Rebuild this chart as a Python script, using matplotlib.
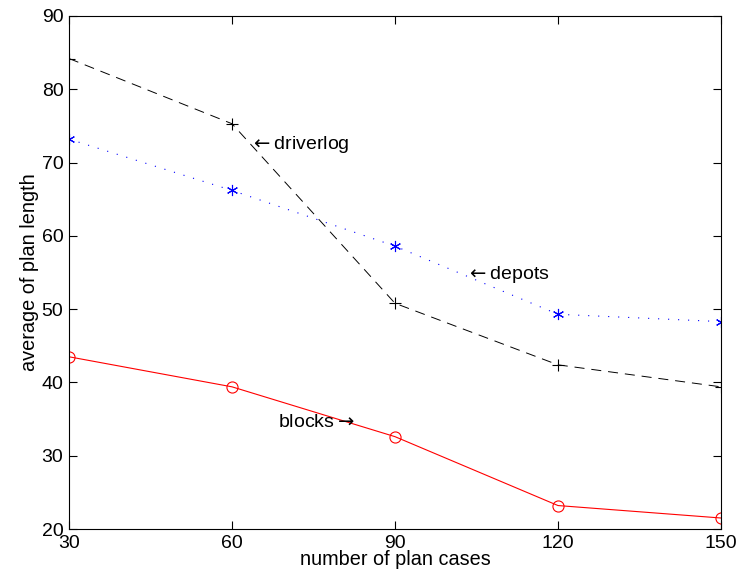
import matplotlib
matplotlib.use("Agg")
import matplotlib.pyplot as plt

plt.rcParams['font.family'] = ['Liberation Sans', 'DejaVu Sans']
plt.rcParams['mathtext.fontset'] = 'dejavusans'

plan_cases = [30, 60, 90, 120, 150]
driverlog = [84.2, 75.3, 50.8, 42.4, 39.4]
depots = [73.2, 66.2, 58.6, 49.3, 48.3]
blocks = [43.5, 39.4, 32.6, 23.2, 21.5]
x_ticks = [30, 60, 90, 120, 150]
y_ticks = [20, 30, 40, 50, 60, 70, 80, 90]

fig = plt.figure(figsize=(7.41, 5.86), dpi=100)
ax = fig.add_axes([69/741, 57/586, (721-69)/741, (529-16)/586])

ax.plot(plan_cases, driverlog, color='black', lw=0.7, linestyle=(0, (10.3, 7.1)),
        marker='+', markersize=8, markeredgewidth=0.8)
ax.plot(plan_cases, depots, color='blue', lw=0.8, linestyle=(0, (1, 8)),
        marker=(6, 2, 0), markersize=8, markeredgewidth=0.8)
ax.plot(plan_cases, blocks, color='red', lw=0.8, linestyle='-',
        marker='o', markersize=8, markerfacecolor='none', markeredgewidth=0.8)

ax.text(63.3, 72.5, r'$\leftarrow$driverlog', fontsize=14, ha='left', va='center')
ax.text(103.0, 54.7, r'$\leftarrow$depots', fontsize=14, ha='left', va='center')
ax.text(82.5, 34.5, r'blocks$\rightarrow$', fontsize=14, ha='right', va='center')

ax.set_xlim(30, 150)
ax.set_ylim(20, 90)
ax.set_xticks(x_ticks)
ax.set_yticks(y_ticks)
ax.tick_params(direction='in', top=True, right=True, labelsize=14, length=6, width=0.8, pad=4)
for s in ax.spines.values():
    s.set_linewidth(0.8)
ax.set_xlabel('number of plan cases', fontsize=14.3, labelpad=-1)
ax.set_ylabel('average of plan length', fontsize=14.3, labelpad=2)

fig.savefig('out.png', dpi=100)
